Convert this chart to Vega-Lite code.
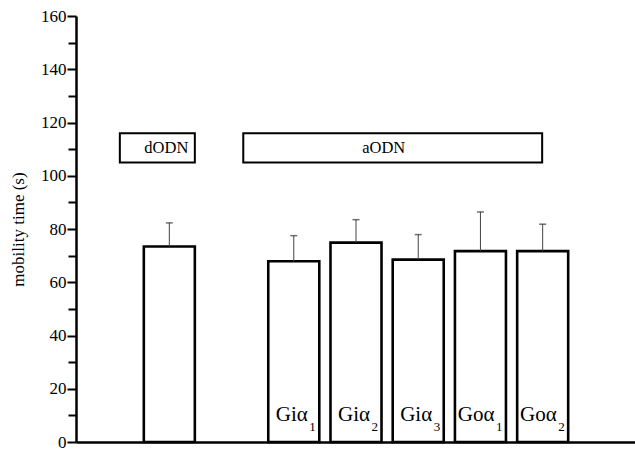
{
  "$schema": "https://vega.github.io/schema/vega-lite/v6.json",
  "width": 560,
  "height": 426,
  "autosize": "none",
  "padding": {"left": 76, "top": 16, "right": 0, "bottom": 7},
  "background": "white",
  "config": {
    "view": {"stroke": null},
    "axis": {"labelFont": "Liberation Serif", "titleFont": "Liberation Serif", "labelColor": "black", "titleColor": "black", "domainColor": "black", "tickColor": "black", "grid": false}
  },
  "datasets": {
    "bars": [
      {"group": "dODN", "main": "", "sub": "", "mean": 73.4, "err": 82.3},
      {"group": "Giα1", "main": "Giα", "sub": "1", "mean": 67.9, "err": 77.5},
      {"group": "Giα2", "main": "Giα", "sub": "2", "mean": 74.9, "err": 83.5},
      {"group": "Giα3", "main": "Giα", "sub": "3", "mean": 68.5, "err": 77.9},
      {"group": "Goα1", "main": "Goα", "sub": "1", "mean": 71.7, "err": 86.4},
      {"group": "Goα2", "main": "Goα", "sub": "2", "mean": 71.7, "err": 81.8}
    ],
    "boxes": [
      {"label": "dODN", "from": "dODN", "to": "dODN", "anchor": "dODN", "low": 105, "high": 116},
      {"label": "aODN", "from": "Giα1", "to": "Goα2", "anchor": "Giα3", "low": 105, "high": 116}
    ]
  },
  "resolve": {"axis": {"y": "independent"}},
  "encoding": {
    "x": {
      "field": "group",
      "type": "nominal",
      "title": null,
      "scale": {"domain": ["s0", "dODN", "s2", "Giα1", "Giα2", "Giα3", "Goα1", "Goα2", "s8"], "paddingInner": 0.18, "paddingOuter": 0.09},
      "axis": {"labels": false, "ticks": false, "domainWidth": 2.5, "title": null}
    }
  },
  "layer": [
    {
      "data": {"name": "bars"},
      "mark": {"type": "bar", "fill": "white", "stroke": "black", "strokeWidth": 2.6},
      "encoding": {
        "y": {
          "field": "mean",
          "type": "quantitative",
          "scale": {"domain": [0, 160], "nice": false},
          "axis": {
            "values": [0, 20, 40, 60, 80, 100, 120, 140, 160],
            "title": "mobility time (s)",
            "titleFontSize": 17,
            "titleFontWeight": "normal",
            "titlePadding": 13,
            "labelFontSize": 17,
            "labelPadding": 1,
            "tickSize": 9,
            "tickWidth": 2,
            "domainWidth": 2.5
          }
        }
      }
    },
    {
      "data": {"name": "bars"},
      "mark": {"type": "rule", "color": "#444", "strokeWidth": 1},
      "encoding": {
        "y": {"field": "mean", "type": "quantitative", "axis": null},
        "y2": {"field": "err"}
      }
    },
    {
      "data": {"name": "bars"},
      "mark": {"type": "tick", "color": "#333", "size": 7, "thickness": 1.5},
      "encoding": {
        "y": {
          "field": "err",
          "type": "quantitative",
          "axis": {"orient": "left", "values": [10, 30, 50, 70, 90, 110, 130, 150], "labels": false, "domain": false, "title": null, "tickSize": 8, "tickWidth": 2}
        }
      }
    },
    {
      "data": {"name": "bars"},
      "transform": [{"filter": "datum.main != ''"}],
      "mark": {"type": "text", "font": "Liberation Serif", "fontSize": 21, "align": "right", "baseline": "alphabetic", "dx": 14, "dy": -21, "color": "black"},
      "encoding": {
        "y": {"datum": 0, "type": "quantitative", "axis": null},
        "text": {"field": "main"}
      }
    },
    {
      "data": {"name": "bars"},
      "transform": [{"filter": "datum.main != ''"}],
      "mark": {"type": "text", "font": "Liberation Serif", "fontSize": 13, "align": "left", "baseline": "alphabetic", "dx": 15.5, "dy": -11, "color": "black"},
      "encoding": {
        "y": {"datum": 0, "type": "quantitative", "axis": null},
        "text": {"field": "sub"}
      }
    },
    {
      "data": {"name": "boxes"},
      "transform": [{"filter": "datum.label == 'dODN'"}],
      "mark": {"type": "rect", "fill": "white", "stroke": "black", "strokeWidth": 2},
      "encoding": {
        "x": {"field": "from", "type": "nominal", "bandPosition": -0.47, "title": null},
        "x2": {"field": "to", "bandPosition": 1},
        "y": {"field": "low", "type": "quantitative", "axis": null},
        "y2": {"field": "high"}
      }
    },
    {
      "data": {"name": "boxes"},
      "transform": [{"filter": "datum.label == 'aODN'"}],
      "mark": {"type": "rect", "fill": "white", "stroke": "black", "strokeWidth": 2},
      "encoding": {
        "x": {"field": "from", "type": "nominal", "bandPosition": -0.49, "title": null},
        "x2": {"field": "to", "bandPosition": 0.49},
        "y": {"field": "low", "type": "quantitative", "axis": null},
        "y2": {"field": "high"}
      }
    },
    {
      "data": {"name": "boxes"},
      "transform": [{"filter": "datum.label == 'dODN'"}],
      "mark": {"type": "text", "font": "Liberation Serif", "fontSize": 16.5, "baseline": "middle", "dx": -3, "color": "black"},
      "encoding": {
        "x": {"field": "anchor", "type": "nominal", "title": null},
        "y": {"datum": 110.5, "type": "quantitative", "axis": null},
        "text": {"field": "label"}
      }
    },
    {
      "data": {"name": "boxes"},
      "transform": [{"filter": "datum.label == 'aODN'"}],
      "mark": {"type": "text", "font": "Liberation Serif", "fontSize": 16.5, "baseline": "middle", "dx": -9, "color": "black"},
      "encoding": {
        "x": {"field": "anchor", "type": "nominal", "title": null, "bandPosition": 0},
        "y": {"datum": 110.5, "type": "quantitative", "axis": null},
        "text": {"field": "label"}
      }
    }
  ]
}
